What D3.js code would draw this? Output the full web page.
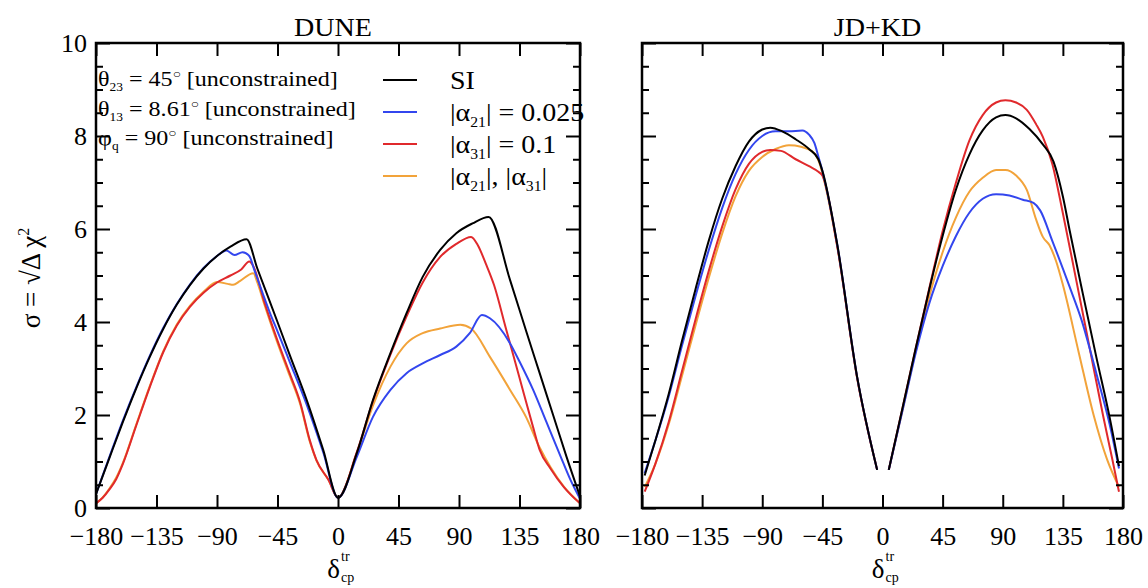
<!DOCTYPE html>
<html>
<head>
<meta charset="utf-8">
<title>DUNE / JD+KD</title>
<script src="https://cdn.jsdelivr.net/npm/d3@7"></script>
<style>
  body { margin: 0; background: #fff; }
  svg text { font-family: "Liberation Serif", "DejaVu Serif", serif; fill: #000; }
</style>
</head>
<body>
<script>
const W = 1148, H = 588;

// tick values
const xTicks = [-180, -135, -90, -45, 0, 45, 90, 135, 180];
const yTicks = [0, 2, 4, 6, 8, 10];
const yMinorTicks = [0.5, 1, 1.5, 2.5, 3, 3.5, 4.5, 5, 5.5, 6.5, 7, 7.5, 8.5, 9, 9.5];

// series names (legend order)
const seriesNames = ["SI", "a21", "a31", "both"];

// DUNE panel, [delta_cp, sigma]
const duneSI = [[-180, 0.3], [-170, 1.08], [-160, 1.85], [-150, 2.58], [-140, 3.25], [-130, 3.85], [-120, 4.37],
  [-110, 4.8], [-100, 5.15], [-90, 5.42], [-80, 5.62], [-68, 5.78], [-60, 5.15], [-45, 4.0], [-36, 3.3], [-23, 2.3],
  [-11, 1.25], [0, 0.22], [14, 1.18], [26, 2.32], [39, 3.33], [51, 4.19], [63, 4.97], [76, 5.55], [88, 5.91],
  [100, 6.12], [112, 6.26], [128, 4.9], [140, 3.8], [150, 2.9], [160, 2.0], [170, 1.1], [180, 0.25]];
const duneA21 = [[-180, 0.3], [-170, 1.1], [-160, 1.88], [-150, 2.6], [-140, 3.27], [-130, 3.87], [-120, 4.38],
  [-110, 4.81], [-100, 5.16], [-90, 5.42], [-83, 5.54], [-77, 5.44], [-71, 5.5], [-66, 5.42], [-62, 5.1],
  [-50, 4.15], [-45, 3.8], [-36, 3.15], [-23, 2.2], [-11, 1.2], [0, 0.22], [14, 1.1], [26, 1.96], [39, 2.54],
  [51, 2.9], [63, 3.11], [76, 3.29], [88, 3.47], [98, 3.76], [107, 4.15], [113, 4.08], [128, 3.54], [135, 3.15],
  [145, 2.55], [155, 1.85], [165, 1.15], [173, 0.6], [180, 0.2]];
const duneA31 = [[-180, 0.1], [-175, 0.22], [-170, 0.4], [-165, 0.62], [-160, 0.95], [-150, 1.78], [-140, 2.6],
  [-130, 3.35], [-120, 3.92], [-110, 4.33], [-100, 4.63], [-90, 4.85], [-80, 5.0], [-72, 5.13], [-66, 5.3],
  [-63, 5.2], [-55, 4.45], [-45, 3.6], [-36, 2.9], [-28, 2.26], [-21, 1.46], [-16, 1.03], [-7, 0.6], [0, 0.22],
  [14, 1.2], [26, 2.3], [39, 3.3], [51, 4.12], [63, 4.85], [76, 5.4], [88, 5.68], [99, 5.83], [104, 5.65],
  [110, 5.25], [116, 4.8], [125, 3.85], [135, 2.8], [145, 1.75], [150, 1.25], [158, 0.85], [168, 0.45], [180, 0.1]];
const duneBoth = [[-180, 0.1], [-175, 0.23], [-170, 0.42], [-165, 0.65], [-160, 0.97], [-150, 1.8], [-140, 2.62],
  [-130, 3.37], [-120, 3.94], [-110, 4.35], [-100, 4.65], [-90, 4.86], [-82, 4.82], [-78, 4.8], [-73, 4.88],
  [-63, 5.05], [-60, 4.85], [-55, 4.4], [-45, 3.55], [-36, 2.85], [-28, 2.22], [-21, 1.43], [-16, 1.02], [-7, 0.6],
  [0, 0.22], [14, 1.18], [26, 2.2], [39, 3.04], [51, 3.54], [63, 3.76], [76, 3.86], [91, 3.94], [99, 3.86],
  [113, 3.25], [128, 2.54], [140, 1.95], [150, 1.3], [158, 0.88], [168, 0.46], [180, 0.1]];

// JD+KD panel (no points between -4 and 4.7)
const jdSI = [[-178, 0.7], [-170, 1.45], [-160, 2.45], [-150, 3.6], [-140, 4.7], [-130, 5.75], [-120, 6.65],
  [-110, 7.35], [-100, 7.88], [-90, 8.14], [-84, 8.18], [-75, 8.1], [-65, 7.93], [-55, 7.72], [-48, 7.5],
  [-45, 7.25], [-34, 5.69], [-19, 2.82], [-4, 0.82], [0, null], [4.7, 0.82], [15, 2.15], [25, 3.45], [35, 4.7],
  [45, 5.85], [55, 6.85], [65, 7.6], [75, 8.12], [85, 8.4], [92, 8.45], [100, 8.38], [110, 8.15], [120, 7.82],
  [128, 7.45], [135, 6.7], [140, 5.98], [150, 4.6], [160, 3.25], [170, 1.95], [177, 0.9]];
const jdA21 = [[-178, 0.75], [-170, 1.45], [-160, 2.4], [-150, 3.5], [-140, 4.55], [-130, 5.55], [-120, 6.45],
  [-110, 7.18], [-100, 7.7], [-90, 8.0], [-80, 8.1], [-70, 8.1], [-60, 8.12], [-55, 8.03], [-51, 7.85],
  [-48, 7.56], [-45, 7.25], [-34, 5.69], [-19, 2.82], [-4, 0.82], [0, null], [4.7, 0.82], [15, 2.1], [25, 3.35],
  [35, 4.4], [45, 5.2], [55, 5.85], [65, 6.35], [75, 6.65], [85, 6.75], [95, 6.72], [105, 6.63], [113, 6.56],
  [118, 6.4], [127, 5.75], [140, 4.76], [149, 4.04], [160, 2.9], [170, 1.8], [177, 0.85]];
const jdA31 = [[-178, 0.35], [-170, 0.95], [-160, 1.85], [-150, 2.95], [-140, 4.05], [-130, 5.1], [-120, 6.05],
  [-110, 6.85], [-100, 7.4], [-90, 7.66], [-84, 7.7], [-76, 7.68], [-65, 7.5], [-55, 7.35], [-48, 7.23],
  [-45, 7.15], [-34, 5.65], [-19, 2.8], [-4, 0.82], [0, null], [4.7, 0.82], [15, 2.15], [25, 3.45], [35, 4.72],
  [45, 5.95], [55, 7.0], [65, 7.9], [75, 8.45], [85, 8.72], [92, 8.77], [100, 8.72], [108, 8.56], [115, 8.25],
  [120, 7.98], [127, 7.41], [135, 6.34], [145, 4.9], [155, 3.45], [165, 2.0], [172, 1.05], [177, 0.35]];
const jdBoth = [[-178, 0.45], [-170, 0.95], [-160, 1.8], [-150, 2.85], [-140, 3.92], [-130, 4.95], [-120, 5.9],
  [-110, 6.7], [-100, 7.25], [-90, 7.55], [-80, 7.72], [-70, 7.8], [-61, 7.77], [-51, 7.63], [-47, 7.4],
  [-45, 7.2], [-34, 5.65], [-19, 2.8], [-4, 0.82], [0, null], [4.7, 0.82], [15, 2.1], [25, 3.4], [35, 4.55],
  [45, 5.5], [55, 6.25], [65, 6.8], [75, 7.1], [85, 7.27], [92, 7.27], [100, 7.15], [108, 6.84], [115, 6.2],
  [120, 5.83], [125, 5.65], [130, 5.3], [135, 4.8], [147, 3.33], [158, 2.0], [168, 1.05], [177, 0.45]];

const colors = { SI: "#000000", a21: "#3346ee", a31: "#e0292c", both: "#f2a33a" };
const drawOrder = ["both", "a31", "a21", "SI"];

const plotTop = 43, plotBottom = 508;
const panels = [
  { title: "DUNE", x0: 96, x1: 580, labels: true,
    data: { SI: duneSI, a21: duneA21, a31: duneA31, both: duneBoth } },
  { title: "JD+KD", x0: 642, x1: 1123, labels: false,
    data: { SI: jdSI, a21: jdA21, a31: jdA31, both: jdBoth } }
];

const svg = d3.select("body").append("svg")
  .attr("width", W)
  .attr("height", H);

// text with sub/superscripts: parts = [text, mode], mode 1 = sub, -1 = sup
function rich(sel, parts, small) {
  let shift = 0;
  parts.forEach(([t, m]) => {
    const target = m === 1 ? small * 0.45 : m === -1 ? -small * 0.7 : 0;
    const ts = sel.append("tspan").attr("dy", target - shift).text(t);
    if (m) ts.attr("font-size", small);
    shift = target;
  });
}

const y = d3.scaleLinear().domain([0, 10]).range([plotBottom, plotTop]);

panels.forEach(p => {
  const x = d3.scaleLinear().domain([-180, 180]).range([p.x0, p.x1]);
  const g = svg.append("g");

  const line = d3.line()
    .defined(d => d[1] !== null)
    .x(d => x(d[0]))
    .y(d => y(d[1]))
    .curve(d3.curveMonotoneX);

  drawOrder.forEach(k => {
    g.append("path")
      .datum(p.data[k])
      .attr("fill", "none")
      .attr("stroke", colors[k])
      .attr("stroke-width", 2)
      .attr("d", line);
  });

  // akser
  g.append("g").attr("transform", "translate(0," + plotBottom + ")")
    .call(d3.axisBottom(x).tickValues(xTicks).tickSize(-13).tickSizeOuter(0).tickPadding(19));
  g.append("g").attr("transform", "translate(0," + plotTop + ")")
    .call(d3.axisTop(x).tickValues(xTicks).tickSize(-13).tickSizeOuter(0).tickFormat(""));

  g.append("g").attr("transform", "translate(" + p.x0 + ",0)")
    .call(d3.axisLeft(y).tickValues(yTicks).tickSize(-14).tickSizeOuter(0).tickPadding(9)
      .tickFormat(p.labels ? d3.format("d") : ""));
  g.append("g").attr("transform", "translate(" + p.x0 + ",0)")
    .call(d3.axisLeft(y).tickValues(yMinorTicks).tickSize(-7).tickSizeOuter(0).tickFormat(""));
  g.append("g").attr("transform", "translate(" + p.x1 + ",0)")
    .call(d3.axisRight(y).tickValues(yTicks).tickSize(-14).tickSizeOuter(0).tickFormat(""));
  g.append("g").attr("transform", "translate(" + p.x1 + ",0)")
    .call(d3.axisRight(y).tickValues(yMinorTicks).tickSize(-7).tickSizeOuter(0).tickFormat(""));

  g.selectAll(".domain").remove();
  g.selectAll(".tick line").attr("stroke", "#000").attr("stroke-width", 2);
  g.selectAll(".tick text").attr("font-size", 26).attr("font-family", "Liberation Serif, serif");

  // ramme
  g.append("rect")
    .attr("x", p.x0).attr("y", plotTop)
    .attr("width", p.x1 - p.x0).attr("height", plotBottom - plotTop)
    .attr("fill", "none").attr("stroke", "#000").attr("stroke-width", 2.5);

  // titel
  const cx = (p.x0 + p.x1) / 2;
  g.append("text").attr("transform", "translate(" + (cx - 5) + ",36) scale(1.08,1)")
    .attr("text-anchor", "middle").attr("font-size", 26).text(p.title);

  // x label: delta_cp^tr
  g.append("text").attr("x", cx + 2).attr("y", 578).attr("text-anchor", "end")
    .attr("font-size", 27).text("δ");
  g.append("text").attr("x", cx + 3).attr("y", 561).attr("font-size", 14).text("tr");
  g.append("text").attr("x", cx + 3).attr("y", 582).attr("font-size", 14).text("cp");
});

// y label
const yLab = svg.append("text")
  .attr("transform", "translate(40,278) rotate(-90)")
  .attr("text-anchor", "middle")
  .attr("font-size", 27);
rich(yLab, [["σ = √Δ χ", 0], ["2", -1]], 16);

// annotations
const notes = [
  [["θ", 0], ["23", 1], [" = 45", 0], ["○", -1], [" [unconstrained]", 0]],
  [["θ", 0], ["13", 1], [" = 8.61", 0], ["○", -1], [" [unconstrained]", 0]],
  [["φ", 0], ["q", 1], [" = 90", 0], ["○", -1], [" [unconstrained]", 0]]
];
const noteY = [86, 116, 145];
notes.forEach((n, i) => {
  const t = svg.append("text")
    .attr("transform", "translate(98," + noteY[i] + ") scale(1.12,1)")
    .attr("font-size", 21.5);
  rich(t, n, 12);
});

// legend
const legendLabels = [
  [["SI", 0]],
  [["|α", 0], ["21", 1], ["| = 0.025", 0]],
  [["|α", 0], ["31", 1], ["| = 0.1", 0]],
  [["|α", 0], ["21", 1], ["|, |α", 0], ["31", 1], ["|", 0]]
];
const legendY = [80, 112, 144, 176];
seriesNames.forEach((k, i) => {
  svg.append("line")
    .attr("x1", 383).attr("x2", 417)
    .attr("y1", legendY[i]).attr("y2", legendY[i])
    .attr("stroke", colors[k]).attr("stroke-width", 2);
  const t = svg.append("text")
    .attr("transform", "translate(450," + (legendY[i] + 9) + ") scale(1.12,1)")
    .attr("font-size", 25);
  rich(t, legendLabels[i], 14);
});
</script>
</body>
</html>
